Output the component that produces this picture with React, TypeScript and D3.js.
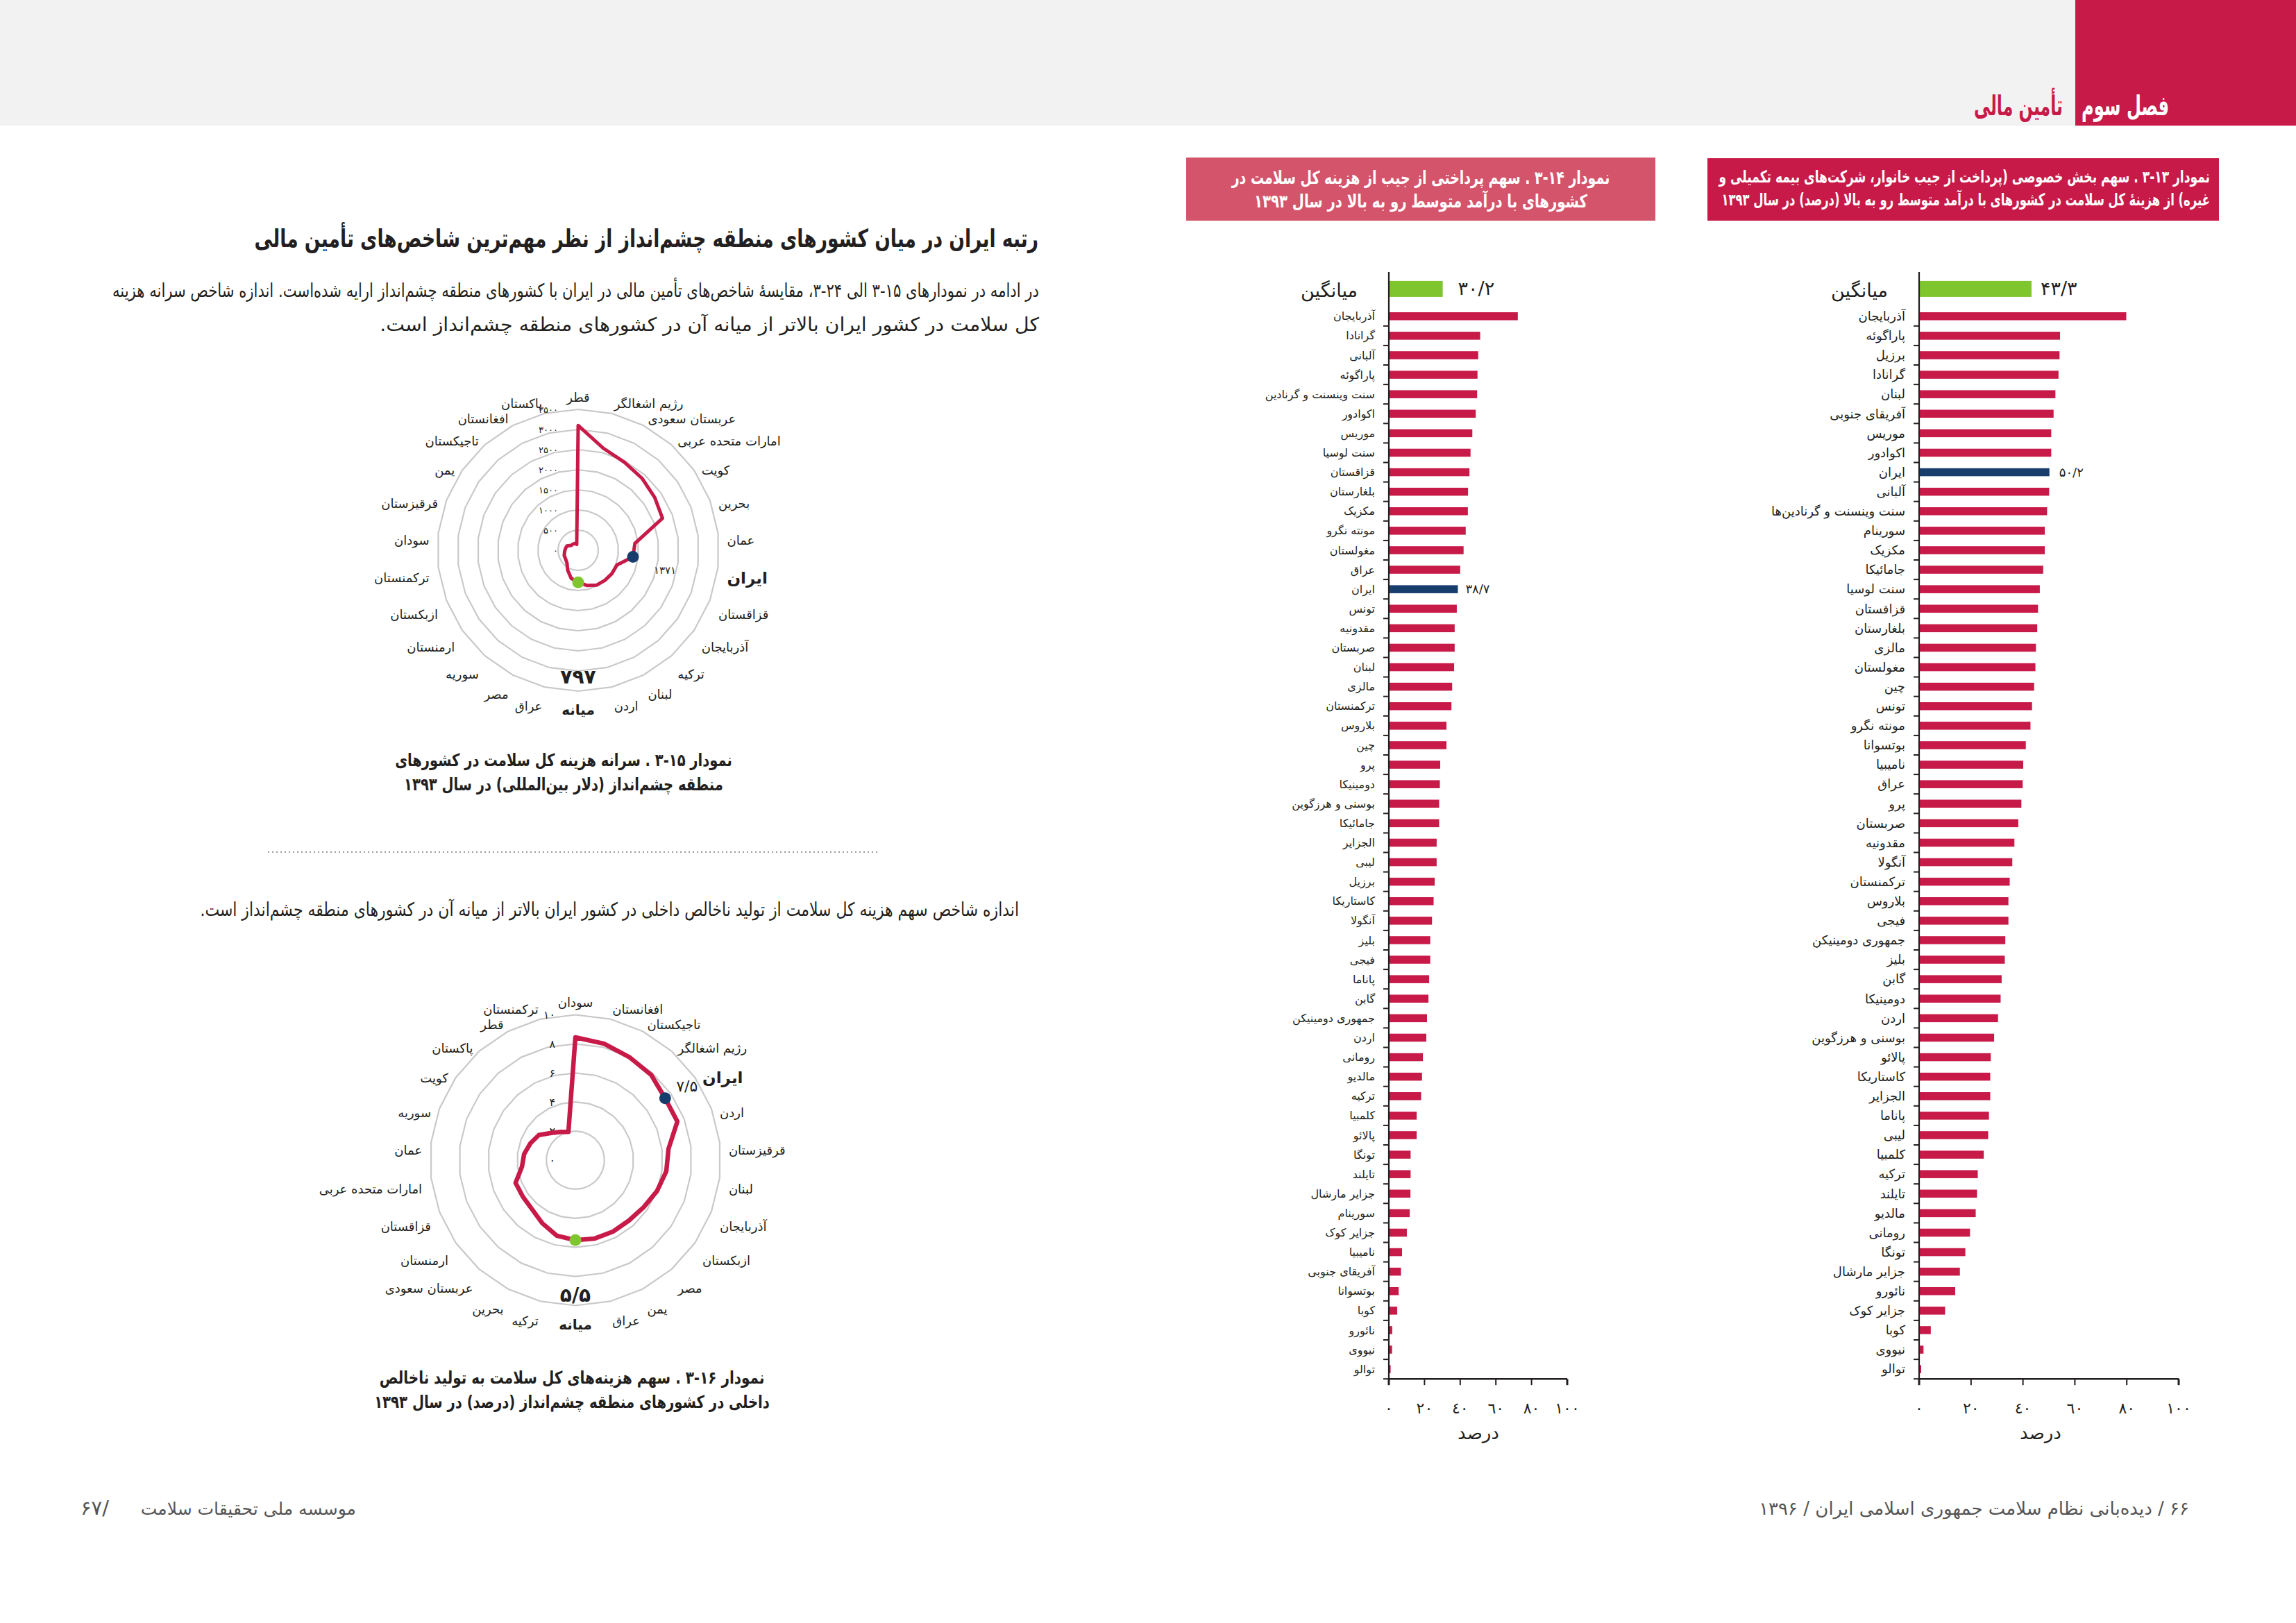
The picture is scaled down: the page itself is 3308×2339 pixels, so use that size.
import React, { useEffect, useLayoutEffect, useRef, useState } from 'react';
import * as d3 from 'd3';

const FONT = "'DejaVu Sans', sans-serif";
const CRIMSON = '#c71a48';
const PINK = '#d4546b';
const BLUE = '#173d6c';
const GREEN = '#7fc62e';
const GRID = '#c9c9c9';
const INK = '#231f20';

const fa = (s: string | number) =>
  String(s).replace(/[0-9]/g, (d) => '۰۱۲۳۴۵۶۷۸۹'[+d]).replace('.', '/');
const faAxis = (s: string | number) => fa(s).replace(/۴/g, '٤').replace(/۶/g, '٦');
const rtl = (s: string) => '\u202B' + s + '\u202C';

// ---------- Chart 3-13 : private share of total health expenditure (%) ----------
const privCountries = ['آذربایجان', 'پاراگوئه', 'برزیل', 'گرانادا', 'لبنان', 'آفریقای جنوبی', 'موریس', 'اکوادور', 'ایران', 'آلبانی', 'سنت وینسنت و گرنادین‌ها', 'سورینام', 'مکزیک', 'جامائیکا', 'سنت لوسیا', 'قزاقستان', 'بلغارستان', 'مالزی', 'مغولستان', 'چین', 'تونس', 'مونته نگرو', 'بوتسوانا', 'نامیبیا', 'عراق', 'پرو', 'صربستان', 'مقدونیه', 'آنگولا', 'ترکمنستان', 'بلاروس', 'فیجی', 'جمهوری دومینیکن', 'بلیز', 'گابن', 'دومینیکا', 'اردن', 'بوسنی و هرزگوین', 'پالائو', 'کاستاریکا', 'الجزایر', 'پاناما', 'لیبی', 'کلمبیا', 'ترکیه', 'تایلند', 'مالدیو', 'رومانی', 'تونگا', 'جزایر مارشال', 'نائورو', 'جزایر کوک', 'کوبا', 'نیووی', 'توالو'];
const privValues = [79.8, 54.3, 54.1, 53.7, 52.5, 51.8, 50.9, 50.9, 50.2, 50.1, 49.3, 48.4, 48.4, 47.8, 46.5, 45.8, 45.5, 45.0, 44.8, 44.3, 43.5, 42.9, 41.1, 40.1, 39.9, 39.4, 38.2, 36.7, 35.9, 34.9, 34.4, 34.4, 33.2, 33.0, 31.8, 31.4, 30.4, 28.9, 27.6, 27.4, 27.4, 26.9, 26.6, 24.9, 22.6, 22.3, 21.8, 19.6, 17.8, 15.7, 13.9, 10.0, 4.5, 1.7, 0.8];
const privAverage = 43.3;
const privTitle = ['نمودار ۱۳-۳ . سهم بخش خصوصی (پرداخت از جیب خانوار، شرکت‌های بیمه تکمیلی و', 'غیره) از هزینهٔ کل سلامت در کشورهای با درآمد متوسط رو به بالا (درصد) در سال ۱۳۹۳'];

// ---------- Chart 3-14 : out-of-pocket share (%) ----------
const oopCountries = ['آذربایجان', 'گرانادا', 'آلبانی', 'پاراگوئه', 'سنت وینسنت و گرنادین', 'اکوادور', 'موریس', 'سنت لوسیا', 'قزاقستان', 'بلغارستان', 'مکزیک', 'مونته نگرو', 'مغولستان', 'عراق', 'ایران', 'تونس', 'مقدونیه', 'صربستان', 'لبنان', 'مالزی', 'ترکمنستان', 'بلاروس', 'چین', 'پرو', 'دومینیکا', 'بوسنی و هرزگوین', 'جامائیکا', 'الجزایر', 'لیبی', 'برزیل', 'کاستاریکا', 'آنگولا', 'بلیز', 'فیجی', 'پاناما', 'گابن', 'جمهوری دومینیکن', 'اردن', 'رومانی', 'مالدیو', 'ترکیه', 'کلمبیا', 'پالائو', 'تونگا', 'تایلند', 'جزایر مارشال', 'سورینام', 'جزایر کوک', 'نامیبیا', 'آفریقای جنوبی', 'بوتسوانا', 'کوبا', 'نائورو', 'نیووی', 'توالو'];
const oopValues = [72.3, 51.2, 50.1, 49.7, 49.5, 48.7, 46.8, 45.8, 45.2, 44.4, 44.3, 43.1, 41.9, 40.0, 38.7, 38.1, 36.9, 36.9, 36.6, 35.5, 35.1, 32.3, 32.3, 28.8, 28.6, 28.2, 28.2, 26.8, 26.8, 25.7, 25.1, 24.2, 23.2, 23.2, 22.6, 22.2, 21.4, 21.0, 19.1, 18.6, 18.1, 15.6, 15.6, 12.2, 12.2, 12.1, 11.7, 10.1, 7.4, 6.8, 5.5, 4.7, 1.9, 1.8, 1.0];
const oopAverage = 30.2;
const oopTitle = ['نمودار ۱۴-۳ . سهم پرداختی از جیب از هزینه کل سلامت در', 'کشورهای با درآمد متوسط رو به بالا در سال ۱۳۹۳'];

const pctTicks = [0, 20, 40, 60, 80, 100];
const avgLabel = 'میانگین';
const iranName = 'ایران';
const medianName = 'میانه';
const axisTitle = 'درصد';

// ---------- Chart 3-15 : per-capita total health expenditure (int. $) ----------
const r1Cats = ['قطر', 'رژیم اشغالگر', 'عربستان سعودی', 'امارات متحده عربی', 'کویت', 'بحرین', 'عمان', 'ایران', 'قزاقستان', 'آذربایجان', 'ترکیه', 'لبنان', 'اردن', 'میانه', 'عراق', 'مصر', 'سوریه', 'ارمنستان', 'ازبکستان', 'ترکمنستان', 'سودان', 'قرقیزستان', 'یمن', 'تاجیکستان', 'افغانستان', 'پاکستان'];
const r1Values = [3100, 2610, 2470, 2390, 2310, 2240, 1420, 1371, 1030, 1020, 1000, 980, 900, 797, 720, 560, 420, 380, 370, 340, 320, 300, 210, 200, 190, 150];
const r1Rings = [0, 500, 1000, 1500, 2000, 2500, 3000, 3500];
const r1Caption = ['نمودار ۱۵-۳ . سرانه هزینه کل سلامت در کشورهای', 'منطقه چشم‌انداز (دلار بین‌المللی) در سال ۱۳۹۳'];

// ---------- Chart 3-16 : total health expenditure as % of GDP ----------
const r2Cats = ['سودان', 'افغانستان', 'تاجیکستان', 'رژیم اشغالگر', 'ایران', 'اردن', 'قرقیزستان', 'لبنان', 'آذربایجان', 'ازبکستان', 'مصر', 'یمن', 'عراق', 'میانه', 'ترکیه', 'بحرین', 'عربستان سعودی', 'ارمنستان', 'قزاقستان', 'امارات متحده عربی', 'عمان', 'سوریه', 'کویت', 'پاکستان', 'قطر', 'ترکمنستان'];
const r2Values = [8.45, 8.25, 8.0, 7.85, 7.5, 7.5, 6.45, 6.3, 6.0, 5.7, 5.55, 5.55, 5.55, 5.5, 5.35, 4.9, 4.5, 4.4, 4.4, 3.7, 3.55, 3.3, 3.05, 2.5, 2.2, 2.0];
const r2Rings = [0, 2, 4, 6, 8, 10];
const r2Caption = ['نمودار ۱۶-۳ . سهم هزینه‌های کل سلامت به تولید ناخالص', 'داخلی در کشورهای منطقه چشم‌انداز (درصد) در سال ۱۳۹۳'];

// ---------- page texts ----------
const chapterText = 'فصل سوم';
const chapterTitle = 'تأمین مالی';
const heading = 'رتبه ایران در میان کشورهای منطقه چشم‌انداز از نظر مهم‌ترین شاخص‌های تأمین مالی';
const para1 = ['در ادامه در نمودارهای ۱۵-۳ الی ۲۴-۳، مقایسهٔ شاخص‌های تأمین مالی در ایران با کشورهای منطقه چشم‌انداز ارایه شده‌است. اندازه شاخص سرانه هزینه', 'کل سلامت در کشور ایران بالاتر از میانه آن در کشورهای منطقه چشم‌انداز است.'];
const para2 = 'اندازه شاخص سهم هزینه کل سلامت از تولید ناخالص داخلی در کشور ایران بالاتر از میانه آن در کشورهای منطقه چشم‌انداز است.';
const footLeft = 'موسسه ملی تحقیقات سلامت';
const footLeftNum = '۶۷/';
const footRight = '۶۶ / دیده‌بانی نظام سلامت جمهوری اسلامی ایران / ۱۳۹۶';

// ---------- layout ----------
const BAND_TOP = 441.7;
const BAND_BOTTOM = 1987.2;
const AXIS_TOP = 392;

// Text that is scaled horizontally to a target width (measured after layout)
function FitText({ x, y, width, anchor, fs, bold, fill, children }: { x: number; y: number; width: number; anchor: string; fs: number; bold?: boolean; fill: string; children: string }) {
  const ref = useRef<SVGTextElement>(null);
  const [s, setS] = useState(1);
  useLayoutEffect(() => {
    if (ref.current) {
      const w = ref.current.getComputedTextLength();
      if (w > 0) setS(width / w);
    }
  }, [width, children, fs]);
  return (
    <text
      ref={ref}
      transform={`translate(${x},${y}) scale(${s},1)`}
      x={0}
      y={0}
      fontFamily={FONT}
      fontSize={fs}
      fontWeight={bold ? 'bold' : 'normal'}
      fill={fill}
      textAnchor={anchor}
    >
      {children}
    </text>
  );
}

type BarProps = {
  countries: string[];
  values: number[];
  average: number;
  x0: number;
  x100: number;
  labelFs: number;
  avgFs: number;
  iranFs: number;
  avgGap: number;
  iranGap: number;
  titleX: number;
};

function BarChart(p: BarProps) {
  const x = d3.scaleLinear().domain([0, 100]).range([p.x0, p.x100]);
  const y = d3
    .scaleBand<string>()
    .domain(p.countries)
    .range([BAND_TOP, BAND_BOTTOM])
    .paddingInner(0.59)
    .paddingOuter(0.295);
  const step = y.step();
  const bw = y.bandwidth();
  const firstC = (y(p.countries[0]) as number) + bw / 2;
  const avgC = firstC - 1.4 * step;
  const avgH = 23;
  return (
    <g fontFamily={FONT}>
      <rect x={x(0)} y={avgC - avgH / 2} width={x(p.average) - x(0)} height={avgH} fill={GREEN} />
      <text x={x(p.average) + p.avgGap} y={avgC + 9} fontSize={p.avgFs} fill={INK}>
        {fa(p.average)}
      </text>
      <text x={p.x0 - 45} y={avgC + 12} fontSize={p.avgFs} fill={INK} textAnchor="end">
        {rtl(avgLabel)}
      </text>
      {p.countries.map((c, i) => {
        const yc = (y(c) as number) + bw / 2;
        const isIran = c === iranName;
        return (
          <g key={c}>
            <rect x={x(0)} y={y(c)} width={x(p.values[i]) - x(0)} height={bw} fill={isIran ? BLUE : CRIMSON} />
            <text x={p.x0 - 20} y={yc + p.labelFs * 0.35} fontSize={p.labelFs} fill={INK} textAnchor="end">
              {rtl(c)}
            </text>
            {isIran && (
              <text x={x(p.values[i]) + p.iranGap} y={yc + p.iranFs * 0.35} fontSize={p.iranFs} fill={INK}>
                {fa(p.values[i])}
              </text>
            )}
          </g>
        );
      })}
      <line x1={p.x0} x2={p.x0} y1={AXIS_TOP} y2={BAND_BOTTOM} stroke={INK} strokeWidth={2.2} />
      {p.countries.map((c, i) => (
        <line key={'t' + i} x1={p.x0 - 8} x2={p.x0} y1={BAND_TOP + (i + 1) * step} y2={BAND_TOP + (i + 1) * step} stroke={INK} strokeWidth={2} />
      ))}
      <line x1={x(0)} x2={x(100)} y1={BAND_BOTTOM} y2={BAND_BOTTOM} stroke={INK} strokeWidth={2.5} />
      {pctTicks.map((t) => (
        <g key={'x' + t}>
          <line x1={x(t)} x2={x(t)} y1={BAND_BOTTOM} y2={BAND_BOTTOM + 9} stroke={INK} strokeWidth={t === 0 || t === 100 ? 3 : 2} />
          <text x={x(t)} y={BAND_BOTTOM + 50} fontSize={22} fill={INK} textAnchor="middle">
            {faAxis(t)}
          </text>
        </g>
      ))}
      <text x={p.titleX} y={BAND_BOTTOM + 87} fontSize={26} fill={INK} textAnchor="middle">
        {rtl(axisTitle)}
      </text>
    </g>
  );
}

type RadarProps = {
  cx: number;
  cy: number;
  R: number;
  max: number;
  rings: number[];
  cats: string[];
  values: number[];
  labelFs: number;
  ringFs: number;
  lineW: number;
  medianText: string;
  medianY: number;
  sideShift: number;
  iranValueLabel: { dx: number; dy: number; fs: number };
};

function Radar(p: RadarProps) {
  const r = d3.scaleLinear().domain([0, p.max]).range([0, p.R]);
  const n = p.cats.length;
  const a = d3.scaleLinear().domain([0, n]).range([0, 2 * Math.PI]);
  const ring = (v: number) =>
    d3
      .lineRadial<string>()
      .angle((_, i) => a(i))
      .radius(r(v))
      .curve(d3.curveLinearClosed)(p.cats) as string;
  const data = d3
    .lineRadial<number>()
    .angle((_, i) => a(i))
    .radius((d) => r(d))
    .curve(d3.curveLinearClosed)(p.values) as string;
  const pt = (i: number) => [Math.sin(a(i)) * r(p.values[i]), -Math.cos(a(i)) * r(p.values[i])];
  const iranI = p.cats.indexOf(iranName);
  const medI = p.cats.indexOf(medianName);
  const ip = pt(iranI);
  const mp = pt(medI);
  const LR = p.R + 13;
  return (
    <g transform={`translate(${p.cx},${p.cy})`} fontFamily={FONT}>
      {p.rings.filter((v) => v > 0).map((v) => (
        <path key={v} d={ring(v)} fill="none" stroke={GRID} strokeWidth={2.2} />
      ))}
      {p.rings.map((v) => (
        <text key={'l' + v} x={-29} y={-r(v)} dy="0.35em" fontSize={p.ringFs} fill={INK} textAnchor="end">
          {fa(v)}
        </text>
      ))}
      <path d={data} fill="none" stroke={CRIMSON} strokeWidth={p.lineW} strokeLinejoin="round" />
      <circle cx={ip[0]} cy={ip[1]} r={8.5} fill={BLUE} />
      <circle cx={mp[0]} cy={mp[1]} r={8.5} fill={GREEN} />
      {p.cats.map((c, i) => {
        const s = Math.sin(a(i));
        const co = -Math.cos(a(i));
        const special = c === iranName || c === medianName;
        const fs = c === iranName ? p.labelFs + 5 : special ? p.labelFs + 2 : p.labelFs;
        const anchor = s > 0.12 ? 'start' : s < -0.12 ? 'end' : 'middle';
        const yy = LR * co + fs * 0.35 + (co > 0 ? co * fs * 0.7 : co * fs * 0.25) + p.sideShift * Math.abs(s);
        return (
          <text key={c + i} x={LR * s} y={yy} fontSize={fs} fontWeight={special ? 'bold' : 'normal'} fill={INK} textAnchor={anchor}>
            {rtl(c)}
          </text>
        );
      })}
      <text x={0} y={p.medianY} fontSize={28} fontWeight="bold" fill={INK} textAnchor="middle">
        {fa(p.medianText)}
      </text>
      <text x={ip[0] + p.iranValueLabel.dx} y={ip[1] + p.iranValueLabel.dy} fontSize={p.iranValueLabel.fs} fill={INK} textAnchor="start">
        {fa(p.values[iranI])}
      </text>
    </g>
  );
}

export default function App() {
  useEffect(() => {
    document.body.style.margin = '0';
  }, []);
  return (
    <svg width={3308} height={2339} viewBox="0 0 3308 2339" style={{ position: 'absolute', left: 0, top: 0, background: '#fff' }}>
      {/* header band */}
      <rect x={0} y={0} width={3308} height={181} fill="#f2f2f2" />
      <rect x={2990} y={0} width={318} height={181} fill={CRIMSON} />
      <FitText x={3125} y={166} width={126} anchor="end" fs={40} bold fill="#fff">
        {rtl(chapterText)}
      </FitText>
      <FitText x={2972} y={166} width={128} anchor="end" fs={40} bold fill={CRIMSON}>
        {rtl(chapterTitle)}
      </FitText>

      {/* bar chart titles */}
      <rect x={2460} y={228} width={737} height={90} fill={CRIMSON} />
      <FitText x={3184} y={263} width={708} anchor="end" fs={24} bold fill="#fff">
        {rtl(privTitle[0])}
      </FitText>
      <FitText x={3184} y={296} width={704} anchor="end" fs={24} bold fill="#fff">
        {rtl(privTitle[1])}
      </FitText>
      <rect x={1709} y={227} width={676} height={91} fill={PINK} />
      <FitText x={2047} y={265} width={545} anchor="middle" fs={26} bold fill="#fff">
        {rtl(oopTitle[0])}
      </FitText>
      <FitText x={2047} y={299} width={480} anchor="middle" fs={26} bold fill="#fff">
        {rtl(oopTitle[1])}
      </FitText>

      {/* bar charts */}
      <BarChart countries={privCountries} values={privValues} average={privAverage} x0={2765} x100={3139} labelFs={18} avgFs={27} iranFs={18} avgGap={13} iranGap={14} titleX={2940} />
      <BarChart countries={oopCountries} values={oopValues} average={oopAverage} x0={2001} x100={2258} labelFs={16} avgFs={27} iranFs={18} avgGap={22} iranGap={11} titleX={2130} />

      {/* left page text */}
      <FitText x={1496} y={356} width={1130} anchor="end" fs={36} bold fill={INK}>
        {rtl(heading)}
      </FitText>
      <FitText x={1497} y={428} width={1335} anchor="end" fs={27} fill={INK}>
        {rtl(para1[0])}
      </FitText>
      <FitText x={1497} y={477} width={950} anchor="end" fs={27} fill={INK}>
        {rtl(para1[1])}
      </FitText>
      <line x1={386} x2={1268} y1={1228} y2={1228} stroke="#9a9a9a" strokeWidth={2} strokeDasharray="2 4" />
      <FitText x={1468} y={1320} width={1180} anchor="end" fs={27} fill={INK}>
        {rtl(para2)}
      </FitText>

      {/* radar charts */}
      <Radar cx={833} cy={793} R={203} max={3500} rings={r1Rings} cats={r1Cats} values={r1Values} labelFs={18} ringFs={13} lineW={5} medianText="797" medianY={192} sideShift={12} iranValueLabel={{ dx: 30, dy: 24, fs: 15 }} />
      <FitText x={812} y={1104} width={486} anchor="middle" fs={25} bold fill={INK}>
        {rtl(r1Caption[0])}
      </FitText>
      <FitText x={812} y={1139} width={460} anchor="middle" fs={25} bold fill={INK}>
        {rtl(r1Caption[1])}
      </FitText>

      <Radar cx={829} cy={1672} R={209.5} max={10} rings={r2Rings} cats={r2Cats} values={r2Values} labelFs={18} ringFs={16} lineW={6.5} medianText="5.5" medianY={204} sideShift={13} iranValueLabel={{ dx: 16, dy: -10, fs: 22 }} />
      <FitText x={824} y={1994} width={555} anchor="middle" fs={25} bold fill={INK}>
        {rtl(r2Caption[0])}
      </FitText>
      <FitText x={824} y={2029} width={570} anchor="middle" fs={25} bold fill={INK}>
        {rtl(r2Caption[1])}
      </FitText>

      {/* footers */}
      <text x={513} y={2183} fontFamily={FONT} fontSize={25} fill="#555" textAnchor="end">
        {rtl(footLeft)}
      </text>
      <text x={116} y={2183} fontFamily={FONT} fontSize={29} fill="#555" textAnchor="start" letterSpacing={4}>
        {footLeftNum}
      </text>
      <text x={3154} y={2183} fontFamily={FONT} fontSize={26} fill="#555" textAnchor="end">
        {rtl(footRight)}
      </text>
    </svg>
  );
}
